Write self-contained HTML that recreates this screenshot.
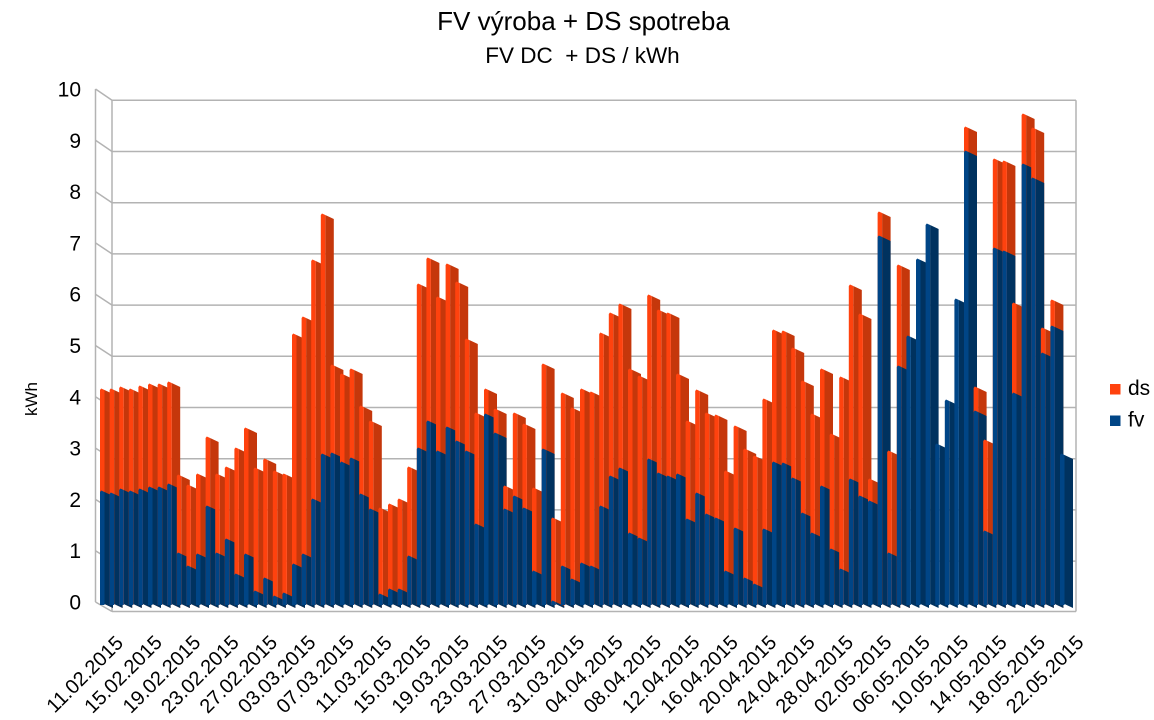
<!DOCTYPE html>
<html><head><meta charset="utf-8"><style>
html,body{margin:0;padding:0;background:#fff;overflow:hidden;width:1154px;height:720px;}
svg{display:block;font-family:"Liberation Sans",Arial,sans-serif;}
</style></head><body>
<svg width="1154" height="720" viewBox="0 0 1154 720" xmlns="http://www.w3.org/2000/svg">
<rect width="1154" height="720" fill="#fff"/>
<text x="583.5" y="30" font-size="26" text-anchor="middle" fill="#000">FV výroba + DS spotreba</text>
<text x="582.5" y="63" font-size="22.5" text-anchor="middle" fill="#000">FV DC&#160; + DS / kWh</text>
<g stroke="#b3b3b3" stroke-width="1.5" fill="none">
<line x1="112" y1="100.3" x2="1076" y2="100.3"/>
<line x1="112" y1="151.5" x2="1076" y2="151.5"/>
<line x1="112" y1="202.7" x2="1076" y2="202.7"/>
<line x1="112" y1="253.9" x2="1076" y2="253.9"/>
<line x1="112" y1="305.1" x2="1076" y2="305.1"/>
<line x1="112" y1="356.3" x2="1076" y2="356.3"/>
<line x1="112" y1="407.5" x2="1076" y2="407.5"/>
<line x1="112" y1="458.7" x2="1076" y2="458.7"/>
<line x1="112" y1="509.9" x2="1076" y2="509.9"/>
<line x1="112" y1="561.1" x2="1076" y2="561.1"/>
<line x1="112" y1="611.5" x2="1076" y2="611.5"/>
<line x1="95.5" y1="89" x2="112" y2="100.3"/>
<line x1="95.5" y1="140.3" x2="112" y2="151.5"/>
<line x1="95.5" y1="191.6" x2="112" y2="202.7"/>
<line x1="95.5" y1="242.9" x2="112" y2="253.9"/>
<line x1="95.5" y1="294.2" x2="112" y2="305.1"/>
<line x1="95.5" y1="345.5" x2="112" y2="356.3"/>
<line x1="95.5" y1="396.8" x2="112" y2="407.5"/>
<line x1="95.5" y1="448.1" x2="112" y2="458.7"/>
<line x1="95.5" y1="499.4" x2="112" y2="509.9"/>
<line x1="95.5" y1="550.7" x2="112" y2="561.1"/>
<line x1="95.5" y1="602" x2="112" y2="611.5"/>
<line x1="95.5" y1="89" x2="95.5" y2="602"/>
<line x1="112" y1="100.3" x2="112" y2="611.5"/>
<line x1="1076" y1="100.3" x2="1076" y2="611.5"/>
</g>
<!-- orange sides -->
<path fill="#c5370b" d="
M100 390m4.5 0l8.5 4V608l-8.5-4z
M109.6 390m4.5 0l8.5 4V608l-8.5-4z
M119.2 388m4.5 0l8.5 4V608l-8.5-4z
M128.8 390m4.5 0l8.5 4V608l-8.5-4z
M138.4 387m4.5 0l8.5 4V608l-8.5-4z
M148 385m4.5 0l8.5 4V608l-8.5-4z
M157.6 385m4.5 0l8.5 4V608l-8.5-4z
M167.2 383m4.5 0l8.5 4V608l-8.5-4z
M176.8 476m4.5 0l8.5 4V608l-8.5-4z
M186.4 486m4.5 0l8.5 4V608l-8.5-4z
M196 475m4.5 0l8.5 4V608l-8.5-4z
M205.6 438m4.5 0l8.5 4V608l-8.5-4z
M215.2 475m4.5 0l8.5 4V608l-8.5-4z
M224.8 468m4.5 0l8.5 4V608l-8.5-4z
M234.4 449m4.5 0l8.5 4V608l-8.5-4z
M244 429m4.5 0l8.5 4V608l-8.5-4z
M253.6 469m4.5 0l8.5 4V608l-8.5-4z
M263.2 460m4.5 0l8.5 4V608l-8.5-4z
M272.8 472m4.5 0l8.5 4V608l-8.5-4z
M282.4 475m4.5 0l8.5 4V608l-8.5-4z
M292 335m4.5 0l8.5 4V608l-8.5-4z
M301.6 318m4.5 0l8.5 4V608l-8.5-4z
M311.2 261m4.5 0l8.5 4V608l-8.5-4z
M320.8 215m4.5 0l8.5 4V608l-8.5-4z
M330.4 366m4.5 0l8.5 4V608l-8.5-4z
M340 375m4.5 0l8.5 4V608l-8.5-4z
M349.6 370m4.5 0l8.5 4V608l-8.5-4z
M359.2 407m4.5 0l8.5 4V608l-8.5-4z
M368.8 422m4.5 0l8.5 4V608l-8.5-4z
M378.4 509m4.5 0l8.5 4V608l-8.5-4z
M388 505m4.5 0l8.5 4V608l-8.5-4z
M397.6 500m4.5 0l8.5 4V608l-8.5-4z
M407.2 468m4.5 0l8.5 4V608l-8.5-4z
M416.8 285m4.5 0l8.5 4V608l-8.5-4z
M426.4 259m4.5 0l8.5 4V608l-8.5-4z
M436 298m4.5 0l8.5 4V608l-8.5-4z
M445.6 265m4.5 0l8.5 4V608l-8.5-4z
M455.2 283m4.5 0l8.5 4V608l-8.5-4z
M464.8 340m4.5 0l8.5 4V608l-8.5-4z
M474.4 414m4.5 0l8.5 4V608l-8.5-4z
M484 390m4.5 0l8.5 4V608l-8.5-4z
M493.6 410m4.5 0l8.5 4V608l-8.5-4z
M503.2 487m4.5 0l8.5 4V608l-8.5-4z
M512.8 414m4.5 0l8.5 4V608l-8.5-4z
M522.4 425m4.5 0l8.5 4V608l-8.5-4z
M532 489m4.5 0l8.5 4V608l-8.5-4z
M541.6 365m4.5 0l8.5 4V608l-8.5-4z
M551.2 519m4.5 0l8.5 4V608l-8.5-4z
M560.8 394m4.5 0l8.5 4V608l-8.5-4z
M570.4 409m4.5 0l8.5 4V608l-8.5-4z
M580 390m4.5 0l8.5 4V608l-8.5-4z
M589.6 393m4.5 0l8.5 4V608l-8.5-4z
M599.2 334m4.5 0l8.5 4V608l-8.5-4z
M608.8 314m4.5 0l8.5 4V608l-8.5-4z
M618.4 305m4.5 0l8.5 4V608l-8.5-4z
M628 370m4.5 0l8.5 4V608l-8.5-4z
M637.6 377m4.5 0l8.5 4V608l-8.5-4z
M647.2 296m4.5 0l8.5 4V608l-8.5-4z
M656.8 311m4.5 0l8.5 4V608l-8.5-4z
M666.4 314m4.5 0l8.5 4V608l-8.5-4z
M676 375m4.5 0l8.5 4V608l-8.5-4z
M685.6 422m4.5 0l8.5 4V608l-8.5-4z
M695.2 391m4.5 0l8.5 4V608l-8.5-4z
M704.8 414m4.5 0l8.5 4V608l-8.5-4z
M714.4 416m4.5 0l8.5 4V608l-8.5-4z
M724 472m4.5 0l8.5 4V608l-8.5-4z
M733.6 427m4.5 0l8.5 4V608l-8.5-4z
M743.2 450m4.5 0l8.5 4V608l-8.5-4z
M752.8 457m4.5 0l8.5 4V608l-8.5-4z
M762.4 400m4.5 0l8.5 4V608l-8.5-4z
M772 331m4.5 0l8.5 4V608l-8.5-4z
M781.6 332m4.5 0l8.5 4V608l-8.5-4z
M791.2 349m4.5 0l8.5 4V608l-8.5-4z
M800.8 382m4.5 0l8.5 4V608l-8.5-4z
M810.4 415m4.5 0l8.5 4V608l-8.5-4z
M820 370m4.5 0l8.5 4V608l-8.5-4z
M829.6 435m4.5 0l8.5 4V608l-8.5-4z
M839.2 378m4.5 0l8.5 4V608l-8.5-4z
M848.8 286m4.5 0l8.5 4V608l-8.5-4z
M858.4 315m4.5 0l8.5 4V608l-8.5-4z
M868 480m4.5 0l8.5 4V608l-8.5-4z
M877.6 213m4.5 0l8.5 4V608l-8.5-4z
M887.2 452m4.5 0l8.5 4V608l-8.5-4z
M896.8 266m4.5 0l8.5 4V608l-8.5-4z
M964 128m4.5 0l8.5 4V608l-8.5-4z
M973.6 388m4.5 0l8.5 4V608l-8.5-4z
M983.2 441m4.5 0l8.5 4V608l-8.5-4z
M992.8 160m4.5 0l8.5 4V608l-8.5-4z
M1002.4 162m4.5 0l8.5 4V608l-8.5-4z
M1012 304m4.5 0l8.5 4V608l-8.5-4z
M1021.6 115m4.5 0l8.5 4V608l-8.5-4z
M1031.2 129m4.5 0l8.5 4V608l-8.5-4z
M1040.8 329m4.5 0l8.5 4V608l-8.5-4z
M1050.4 301m4.5 0l8.5 4V608l-8.5-4z
"/>
<!-- blue sides -->
<path fill="#00325f" d="
M100 492m4.5 0l8.5 4V608l-8.5-4z
M109.6 494m4.5 0l8.5 4V608l-8.5-4z
M119.2 490m4.5 0l8.5 4V608l-8.5-4z
M128.8 492m4.5 0l8.5 4V608l-8.5-4z
M138.4 490m4.5 0l8.5 4V608l-8.5-4z
M148 488m4.5 0l8.5 4V608l-8.5-4z
M157.6 488m4.5 0l8.5 4V608l-8.5-4z
M167.2 485m4.5 0l8.5 4V608l-8.5-4z
M176.8 554m4.5 0l8.5 4V608l-8.5-4z
M186.4 567m4.5 0l8.5 4V608l-8.5-4z
M196 555m4.5 0l8.5 4V608l-8.5-4z
M205.6 507m4.5 0l8.5 4V608l-8.5-4z
M215.2 554m4.5 0l8.5 4V608l-8.5-4z
M224.8 540m4.5 0l8.5 4V608l-8.5-4z
M234.4 575m4.5 0l8.5 4V608l-8.5-4z
M244 555m4.5 0l8.5 4V608l-8.5-4z
M253.6 592m4.5 0l8.5 4V608l-8.5-4z
M263.2 579m4.5 0l8.5 4V608l-8.5-4z
M272.8 597m4.5 0l8.5 4V608l-8.5-4z
M282.4 594m4.5 0l8.5 4V608l-8.5-4z
M292 565m4.5 0l8.5 4V608l-8.5-4z
M301.6 555m4.5 0l8.5 4V608l-8.5-4z
M311.2 500m4.5 0l8.5 4V608l-8.5-4z
M320.8 455m4.5 0l8.5 4V608l-8.5-4z
M330.4 454m4.5 0l8.5 4V608l-8.5-4z
M340 463m4.5 0l8.5 4V608l-8.5-4z
M349.6 459m4.5 0l8.5 4V608l-8.5-4z
M359.2 495m4.5 0l8.5 4V608l-8.5-4z
M368.8 510m4.5 0l8.5 4V608l-8.5-4z
M378.4 595m4.5 0l8.5 4V608l-8.5-4z
M388 590m4.5 0l8.5 4V608l-8.5-4z
M397.6 590m4.5 0l8.5 4V608l-8.5-4z
M407.2 557m4.5 0l8.5 4V608l-8.5-4z
M416.8 449m4.5 0l8.5 4V608l-8.5-4z
M426.4 422m4.5 0l8.5 4V608l-8.5-4z
M436 452m4.5 0l8.5 4V608l-8.5-4z
M445.6 428m4.5 0l8.5 4V608l-8.5-4z
M455.2 442m4.5 0l8.5 4V608l-8.5-4z
M464.8 452m4.5 0l8.5 4V608l-8.5-4z
M474.4 525m4.5 0l8.5 4V608l-8.5-4z
M484 415m4.5 0l8.5 4V608l-8.5-4z
M493.6 434m4.5 0l8.5 4V608l-8.5-4z
M503.2 510m4.5 0l8.5 4V608l-8.5-4z
M512.8 497m4.5 0l8.5 4V608l-8.5-4z
M522.4 509m4.5 0l8.5 4V608l-8.5-4z
M532 572m4.5 0l8.5 4V608l-8.5-4z
M541.6 450m4.5 0l8.5 4V608l-8.5-4z
M551.2 602m4.5 0l8.5 4V608l-8.5-4z
M560.8 567m4.5 0l8.5 4V608l-8.5-4z
M570.4 580m4.5 0l8.5 4V608l-8.5-4z
M580 564m4.5 0l8.5 4V608l-8.5-4z
M589.6 567m4.5 0l8.5 4V608l-8.5-4z
M599.2 507m4.5 0l8.5 4V608l-8.5-4z
M608.8 477m4.5 0l8.5 4V608l-8.5-4z
M618.4 469m4.5 0l8.5 4V608l-8.5-4z
M628 534m4.5 0l8.5 4V608l-8.5-4z
M637.6 539m4.5 0l8.5 4V608l-8.5-4z
M647.2 460m4.5 0l8.5 4V608l-8.5-4z
M656.8 474m4.5 0l8.5 4V608l-8.5-4z
M666.4 477m4.5 0l8.5 4V608l-8.5-4z
M676 475m4.5 0l8.5 4V608l-8.5-4z
M685.6 520m4.5 0l8.5 4V608l-8.5-4z
M695.2 494m4.5 0l8.5 4V608l-8.5-4z
M704.8 515m4.5 0l8.5 4V608l-8.5-4z
M714.4 519m4.5 0l8.5 4V608l-8.5-4z
M724 572m4.5 0l8.5 4V608l-8.5-4z
M733.6 529m4.5 0l8.5 4V608l-8.5-4z
M743.2 579m4.5 0l8.5 4V608l-8.5-4z
M752.8 585m4.5 0l8.5 4V608l-8.5-4z
M762.4 530m4.5 0l8.5 4V608l-8.5-4z
M772 463m4.5 0l8.5 4V608l-8.5-4z
M781.6 464m4.5 0l8.5 4V608l-8.5-4z
M791.2 479m4.5 0l8.5 4V608l-8.5-4z
M800.8 514m4.5 0l8.5 4V608l-8.5-4z
M810.4 534m4.5 0l8.5 4V608l-8.5-4z
M820 487m4.5 0l8.5 4V608l-8.5-4z
M829.6 550m4.5 0l8.5 4V608l-8.5-4z
M839.2 570m4.5 0l8.5 4V608l-8.5-4z
M848.8 480m4.5 0l8.5 4V608l-8.5-4z
M858.4 497m4.5 0l8.5 4V608l-8.5-4z
M868 502m4.5 0l8.5 4V608l-8.5-4z
M877.6 237m4.5 0l8.5 4V608l-8.5-4z
M887.2 554m4.5 0l8.5 4V608l-8.5-4z
M896.8 367m4.5 0l8.5 4V608l-8.5-4z
M906.4 337m4.5 0l8.5 4V608l-8.5-4z
M916 260m4.5 0l8.5 4V608l-8.5-4z
M925.6 225m4.5 0l8.5 4V608l-8.5-4z
M935.2 445m4.5 0l8.5 4V608l-8.5-4z
M944.8 401m4.5 0l8.5 4V608l-8.5-4z
M954.4 300m4.5 0l8.5 4V608l-8.5-4z
M964 152m4.5 0l8.5 4V608l-8.5-4z
M973.6 412m4.5 0l8.5 4V608l-8.5-4z
M983.2 532m4.5 0l8.5 4V608l-8.5-4z
M992.8 249m4.5 0l8.5 4V608l-8.5-4z
M1002.4 252m4.5 0l8.5 4V608l-8.5-4z
M1012 394m4.5 0l8.5 4V608l-8.5-4z
M1021.6 165m4.5 0l8.5 4V608l-8.5-4z
M1031.2 179m4.5 0l8.5 4V608l-8.5-4z
M1040.8 354m4.5 0l8.5 4V608l-8.5-4z
M1050.4 327m4.5 0l8.5 4V608l-8.5-4z
M1060 455m4.5 0l8.5 4V608l-8.5-4z
"/>
<!-- orange fronts -->
<path fill="#ff420e" d="
M100 390l1.2-1.5 3.3 1.5V605h-4.5z
M109.6 390l1.2-1.5 3.3 1.5V605h-4.5z
M119.2 388l1.2-1.5 3.3 1.5V605h-4.5z
M128.8 390l1.2-1.5 3.3 1.5V605h-4.5z
M138.4 387l1.2-1.5 3.3 1.5V605h-4.5z
M148 385l1.2-1.5 3.3 1.5V605h-4.5z
M157.6 385l1.2-1.5 3.3 1.5V605h-4.5z
M167.2 383l1.2-1.5 3.3 1.5V605h-4.5z
M176.8 476l1.2-1.5 3.3 1.5V605h-4.5z
M186.4 486l1.2-1.5 3.3 1.5V605h-4.5z
M196 475l1.2-1.5 3.3 1.5V605h-4.5z
M205.6 438l1.2-1.5 3.3 1.5V605h-4.5z
M215.2 475l1.2-1.5 3.3 1.5V605h-4.5z
M224.8 468l1.2-1.5 3.3 1.5V605h-4.5z
M234.4 449l1.2-1.5 3.3 1.5V605h-4.5z
M244 429l1.2-1.5 3.3 1.5V605h-4.5z
M253.6 469l1.2-1.5 3.3 1.5V605h-4.5z
M263.2 460l1.2-1.5 3.3 1.5V605h-4.5z
M272.8 472l1.2-1.5 3.3 1.5V605h-4.5z
M282.4 475l1.2-1.5 3.3 1.5V605h-4.5z
M292 335l1.2-1.5 3.3 1.5V605h-4.5z
M301.6 318l1.2-1.5 3.3 1.5V605h-4.5z
M311.2 261l1.2-1.5 3.3 1.5V605h-4.5z
M320.8 215l1.2-1.5 3.3 1.5V605h-4.5z
M330.4 366l1.2-1.5 3.3 1.5V605h-4.5z
M340 375l1.2-1.5 3.3 1.5V605h-4.5z
M349.6 370l1.2-1.5 3.3 1.5V605h-4.5z
M359.2 407l1.2-1.5 3.3 1.5V605h-4.5z
M368.8 422l1.2-1.5 3.3 1.5V605h-4.5z
M378.4 509l1.2-1.5 3.3 1.5V605h-4.5z
M388 505l1.2-1.5 3.3 1.5V605h-4.5z
M397.6 500l1.2-1.5 3.3 1.5V605h-4.5z
M407.2 468l1.2-1.5 3.3 1.5V605h-4.5z
M416.8 285l1.2-1.5 3.3 1.5V605h-4.5z
M426.4 259l1.2-1.5 3.3 1.5V605h-4.5z
M436 298l1.2-1.5 3.3 1.5V605h-4.5z
M445.6 265l1.2-1.5 3.3 1.5V605h-4.5z
M455.2 283l1.2-1.5 3.3 1.5V605h-4.5z
M464.8 340l1.2-1.5 3.3 1.5V605h-4.5z
M474.4 414l1.2-1.5 3.3 1.5V605h-4.5z
M484 390l1.2-1.5 3.3 1.5V605h-4.5z
M493.6 410l1.2-1.5 3.3 1.5V605h-4.5z
M503.2 487l1.2-1.5 3.3 1.5V605h-4.5z
M512.8 414l1.2-1.5 3.3 1.5V605h-4.5z
M522.4 425l1.2-1.5 3.3 1.5V605h-4.5z
M532 489l1.2-1.5 3.3 1.5V605h-4.5z
M541.6 365l1.2-1.5 3.3 1.5V605h-4.5z
M551.2 519l1.2-1.5 3.3 1.5V605h-4.5z
M560.8 394l1.2-1.5 3.3 1.5V605h-4.5z
M570.4 409l1.2-1.5 3.3 1.5V605h-4.5z
M580 390l1.2-1.5 3.3 1.5V605h-4.5z
M589.6 393l1.2-1.5 3.3 1.5V605h-4.5z
M599.2 334l1.2-1.5 3.3 1.5V605h-4.5z
M608.8 314l1.2-1.5 3.3 1.5V605h-4.5z
M618.4 305l1.2-1.5 3.3 1.5V605h-4.5z
M628 370l1.2-1.5 3.3 1.5V605h-4.5z
M637.6 377l1.2-1.5 3.3 1.5V605h-4.5z
M647.2 296l1.2-1.5 3.3 1.5V605h-4.5z
M656.8 311l1.2-1.5 3.3 1.5V605h-4.5z
M666.4 314l1.2-1.5 3.3 1.5V605h-4.5z
M676 375l1.2-1.5 3.3 1.5V605h-4.5z
M685.6 422l1.2-1.5 3.3 1.5V605h-4.5z
M695.2 391l1.2-1.5 3.3 1.5V605h-4.5z
M704.8 414l1.2-1.5 3.3 1.5V605h-4.5z
M714.4 416l1.2-1.5 3.3 1.5V605h-4.5z
M724 472l1.2-1.5 3.3 1.5V605h-4.5z
M733.6 427l1.2-1.5 3.3 1.5V605h-4.5z
M743.2 450l1.2-1.5 3.3 1.5V605h-4.5z
M752.8 457l1.2-1.5 3.3 1.5V605h-4.5z
M762.4 400l1.2-1.5 3.3 1.5V605h-4.5z
M772 331l1.2-1.5 3.3 1.5V605h-4.5z
M781.6 332l1.2-1.5 3.3 1.5V605h-4.5z
M791.2 349l1.2-1.5 3.3 1.5V605h-4.5z
M800.8 382l1.2-1.5 3.3 1.5V605h-4.5z
M810.4 415l1.2-1.5 3.3 1.5V605h-4.5z
M820 370l1.2-1.5 3.3 1.5V605h-4.5z
M829.6 435l1.2-1.5 3.3 1.5V605h-4.5z
M839.2 378l1.2-1.5 3.3 1.5V605h-4.5z
M848.8 286l1.2-1.5 3.3 1.5V605h-4.5z
M858.4 315l1.2-1.5 3.3 1.5V605h-4.5z
M868 480l1.2-1.5 3.3 1.5V605h-4.5z
M877.6 213l1.2-1.5 3.3 1.5V605h-4.5z
M887.2 452l1.2-1.5 3.3 1.5V605h-4.5z
M896.8 266l1.2-1.5 3.3 1.5V605h-4.5z
M964 128l1.2-1.5 3.3 1.5V605h-4.5z
M973.6 388l1.2-1.5 3.3 1.5V605h-4.5z
M983.2 441l1.2-1.5 3.3 1.5V605h-4.5z
M992.8 160l1.2-1.5 3.3 1.5V605h-4.5z
M1002.4 162l1.2-1.5 3.3 1.5V605h-4.5z
M1012 304l1.2-1.5 3.3 1.5V605h-4.5z
M1021.6 115l1.2-1.5 3.3 1.5V605h-4.5z
M1031.2 129l1.2-1.5 3.3 1.5V605h-4.5z
M1040.8 329l1.2-1.5 3.3 1.5V605h-4.5z
M1050.4 301l1.2-1.5 3.3 1.5V605h-4.5z
"/>
<!-- blue fronts -->
<path fill="#004586" d="
M100 492l1.2-1.5 3.3 1.5V605h-4.5z
M109.6 494l1.2-1.5 3.3 1.5V605h-4.5z
M119.2 490l1.2-1.5 3.3 1.5V605h-4.5z
M128.8 492l1.2-1.5 3.3 1.5V605h-4.5z
M138.4 490l1.2-1.5 3.3 1.5V605h-4.5z
M148 488l1.2-1.5 3.3 1.5V605h-4.5z
M157.6 488l1.2-1.5 3.3 1.5V605h-4.5z
M167.2 485l1.2-1.5 3.3 1.5V605h-4.5z
M176.8 554l1.2-1.5 3.3 1.5V605h-4.5z
M186.4 567l1.2-1.5 3.3 1.5V605h-4.5z
M196 555l1.2-1.5 3.3 1.5V605h-4.5z
M205.6 507l1.2-1.5 3.3 1.5V605h-4.5z
M215.2 554l1.2-1.5 3.3 1.5V605h-4.5z
M224.8 540l1.2-1.5 3.3 1.5V605h-4.5z
M234.4 575l1.2-1.5 3.3 1.5V605h-4.5z
M244 555l1.2-1.5 3.3 1.5V605h-4.5z
M253.6 592l1.2-1.5 3.3 1.5V605h-4.5z
M263.2 579l1.2-1.5 3.3 1.5V605h-4.5z
M272.8 597l1.2-1.5 3.3 1.5V605h-4.5z
M282.4 594l1.2-1.5 3.3 1.5V605h-4.5z
M292 565l1.2-1.5 3.3 1.5V605h-4.5z
M301.6 555l1.2-1.5 3.3 1.5V605h-4.5z
M311.2 500l1.2-1.5 3.3 1.5V605h-4.5z
M320.8 455l1.2-1.5 3.3 1.5V605h-4.5z
M330.4 454l1.2-1.5 3.3 1.5V605h-4.5z
M340 463l1.2-1.5 3.3 1.5V605h-4.5z
M349.6 459l1.2-1.5 3.3 1.5V605h-4.5z
M359.2 495l1.2-1.5 3.3 1.5V605h-4.5z
M368.8 510l1.2-1.5 3.3 1.5V605h-4.5z
M378.4 595l1.2-1.5 3.3 1.5V605h-4.5z
M388 590l1.2-1.5 3.3 1.5V605h-4.5z
M397.6 590l1.2-1.5 3.3 1.5V605h-4.5z
M407.2 557l1.2-1.5 3.3 1.5V605h-4.5z
M416.8 449l1.2-1.5 3.3 1.5V605h-4.5z
M426.4 422l1.2-1.5 3.3 1.5V605h-4.5z
M436 452l1.2-1.5 3.3 1.5V605h-4.5z
M445.6 428l1.2-1.5 3.3 1.5V605h-4.5z
M455.2 442l1.2-1.5 3.3 1.5V605h-4.5z
M464.8 452l1.2-1.5 3.3 1.5V605h-4.5z
M474.4 525l1.2-1.5 3.3 1.5V605h-4.5z
M484 415l1.2-1.5 3.3 1.5V605h-4.5z
M493.6 434l1.2-1.5 3.3 1.5V605h-4.5z
M503.2 510l1.2-1.5 3.3 1.5V605h-4.5z
M512.8 497l1.2-1.5 3.3 1.5V605h-4.5z
M522.4 509l1.2-1.5 3.3 1.5V605h-4.5z
M532 572l1.2-1.5 3.3 1.5V605h-4.5z
M541.6 450l1.2-1.5 3.3 1.5V605h-4.5z
M551.2 602l1.2-1.5 3.3 1.5V605h-4.5z
M560.8 567l1.2-1.5 3.3 1.5V605h-4.5z
M570.4 580l1.2-1.5 3.3 1.5V605h-4.5z
M580 564l1.2-1.5 3.3 1.5V605h-4.5z
M589.6 567l1.2-1.5 3.3 1.5V605h-4.5z
M599.2 507l1.2-1.5 3.3 1.5V605h-4.5z
M608.8 477l1.2-1.5 3.3 1.5V605h-4.5z
M618.4 469l1.2-1.5 3.3 1.5V605h-4.5z
M628 534l1.2-1.5 3.3 1.5V605h-4.5z
M637.6 539l1.2-1.5 3.3 1.5V605h-4.5z
M647.2 460l1.2-1.5 3.3 1.5V605h-4.5z
M656.8 474l1.2-1.5 3.3 1.5V605h-4.5z
M666.4 477l1.2-1.5 3.3 1.5V605h-4.5z
M676 475l1.2-1.5 3.3 1.5V605h-4.5z
M685.6 520l1.2-1.5 3.3 1.5V605h-4.5z
M695.2 494l1.2-1.5 3.3 1.5V605h-4.5z
M704.8 515l1.2-1.5 3.3 1.5V605h-4.5z
M714.4 519l1.2-1.5 3.3 1.5V605h-4.5z
M724 572l1.2-1.5 3.3 1.5V605h-4.5z
M733.6 529l1.2-1.5 3.3 1.5V605h-4.5z
M743.2 579l1.2-1.5 3.3 1.5V605h-4.5z
M752.8 585l1.2-1.5 3.3 1.5V605h-4.5z
M762.4 530l1.2-1.5 3.3 1.5V605h-4.5z
M772 463l1.2-1.5 3.3 1.5V605h-4.5z
M781.6 464l1.2-1.5 3.3 1.5V605h-4.5z
M791.2 479l1.2-1.5 3.3 1.5V605h-4.5z
M800.8 514l1.2-1.5 3.3 1.5V605h-4.5z
M810.4 534l1.2-1.5 3.3 1.5V605h-4.5z
M820 487l1.2-1.5 3.3 1.5V605h-4.5z
M829.6 550l1.2-1.5 3.3 1.5V605h-4.5z
M839.2 570l1.2-1.5 3.3 1.5V605h-4.5z
M848.8 480l1.2-1.5 3.3 1.5V605h-4.5z
M858.4 497l1.2-1.5 3.3 1.5V605h-4.5z
M868 502l1.2-1.5 3.3 1.5V605h-4.5z
M877.6 237l1.2-1.5 3.3 1.5V605h-4.5z
M887.2 554l1.2-1.5 3.3 1.5V605h-4.5z
M896.8 367l1.2-1.5 3.3 1.5V605h-4.5z
M906.4 337l1.2-1.5 3.3 1.5V605h-4.5z
M916 260l1.2-1.5 3.3 1.5V605h-4.5z
M925.6 225l1.2-1.5 3.3 1.5V605h-4.5z
M935.2 445l1.2-1.5 3.3 1.5V605h-4.5z
M944.8 401l1.2-1.5 3.3 1.5V605h-4.5z
M954.4 300l1.2-1.5 3.3 1.5V605h-4.5z
M964 152l1.2-1.5 3.3 1.5V605h-4.5z
M973.6 412l1.2-1.5 3.3 1.5V605h-4.5z
M983.2 532l1.2-1.5 3.3 1.5V605h-4.5z
M992.8 249l1.2-1.5 3.3 1.5V605h-4.5z
M1002.4 252l1.2-1.5 3.3 1.5V605h-4.5z
M1012 394l1.2-1.5 3.3 1.5V605h-4.5z
M1021.6 165l1.2-1.5 3.3 1.5V605h-4.5z
M1031.2 179l1.2-1.5 3.3 1.5V605h-4.5z
M1040.8 354l1.2-1.5 3.3 1.5V605h-4.5z
M1050.4 327l1.2-1.5 3.3 1.5V605h-4.5z
M1060 455l1.2-1.5 3.3 1.5V605h-4.5z
"/>
<g font-size="21" text-anchor="end" fill="#000">
<text x="81" y="96.5">10</text>
<text x="81" y="147.8">9</text>
<text x="81" y="199.1">8</text>
<text x="81" y="250.4">7</text>
<text x="81" y="301.7">6</text>
<text x="81" y="353">5</text>
<text x="81" y="404.3">4</text>
<text x="81" y="455.6">3</text>
<text x="81" y="506.9">2</text>
<text x="81" y="558.2">1</text>
<text x="81" y="609.5">0</text>
</g>
<text x="37" y="399" font-size="17" text-anchor="middle" transform="rotate(-90 37 399)">kWh</text>
<g font-size="20" text-anchor="middle" fill="#000">
<text x="89.5" y="679" transform="rotate(-45 89.5 679)">11.02.2015</text>
<text x="127.9" y="679" transform="rotate(-45 127.9 679)">15.02.2015</text>
<text x="166.3" y="679" transform="rotate(-45 166.3 679)">19.02.2015</text>
<text x="204.7" y="679" transform="rotate(-45 204.7 679)">23.02.2015</text>
<text x="243.1" y="679" transform="rotate(-45 243.1 679)">27.02.2015</text>
<text x="281.5" y="679" transform="rotate(-45 281.5 679)">03.03.2015</text>
<text x="319.9" y="679" transform="rotate(-45 319.9 679)">07.03.2015</text>
<text x="358.3" y="679" transform="rotate(-45 358.3 679)">11.03.2015</text>
<text x="396.7" y="679" transform="rotate(-45 396.7 679)">15.03.2015</text>
<text x="435.1" y="679" transform="rotate(-45 435.1 679)">19.03.2015</text>
<text x="473.5" y="679" transform="rotate(-45 473.5 679)">23.03.2015</text>
<text x="511.9" y="679" transform="rotate(-45 511.9 679)">27.03.2015</text>
<text x="550.3" y="679" transform="rotate(-45 550.3 679)">31.03.2015</text>
<text x="588.7" y="679" transform="rotate(-45 588.7 679)">04.04.2015</text>
<text x="627.1" y="679" transform="rotate(-45 627.1 679)">08.04.2015</text>
<text x="665.5" y="679" transform="rotate(-45 665.5 679)">12.04.2015</text>
<text x="703.9" y="679" transform="rotate(-45 703.9 679)">16.04.2015</text>
<text x="742.3" y="679" transform="rotate(-45 742.3 679)">20.04.2015</text>
<text x="780.7" y="679" transform="rotate(-45 780.7 679)">24.04.2015</text>
<text x="819.1" y="679" transform="rotate(-45 819.1 679)">28.04.2015</text>
<text x="857.5" y="679" transform="rotate(-45 857.5 679)">02.05.2015</text>
<text x="895.9" y="679" transform="rotate(-45 895.9 679)">06.05.2015</text>
<text x="934.3" y="679" transform="rotate(-45 934.3 679)">10.05.2015</text>
<text x="972.7" y="679" transform="rotate(-45 972.7 679)">14.05.2015</text>
<text x="1011.1" y="679" transform="rotate(-45 1011.1 679)">18.05.2015</text>
<text x="1049.5" y="679" transform="rotate(-45 1049.5 679)">22.05.2015</text>
</g>
<rect x="1110" y="384" width="10.5" height="10.5" fill="#ff420e"/>
<rect x="1110" y="415.5" width="10.5" height="10.5" fill="#004586"/>
<g font-size="21" fill="#000">
<text x="1128" y="395">ds</text>
<text x="1128" y="426.5">fv</text>
</g>
</svg>
</body></html>
